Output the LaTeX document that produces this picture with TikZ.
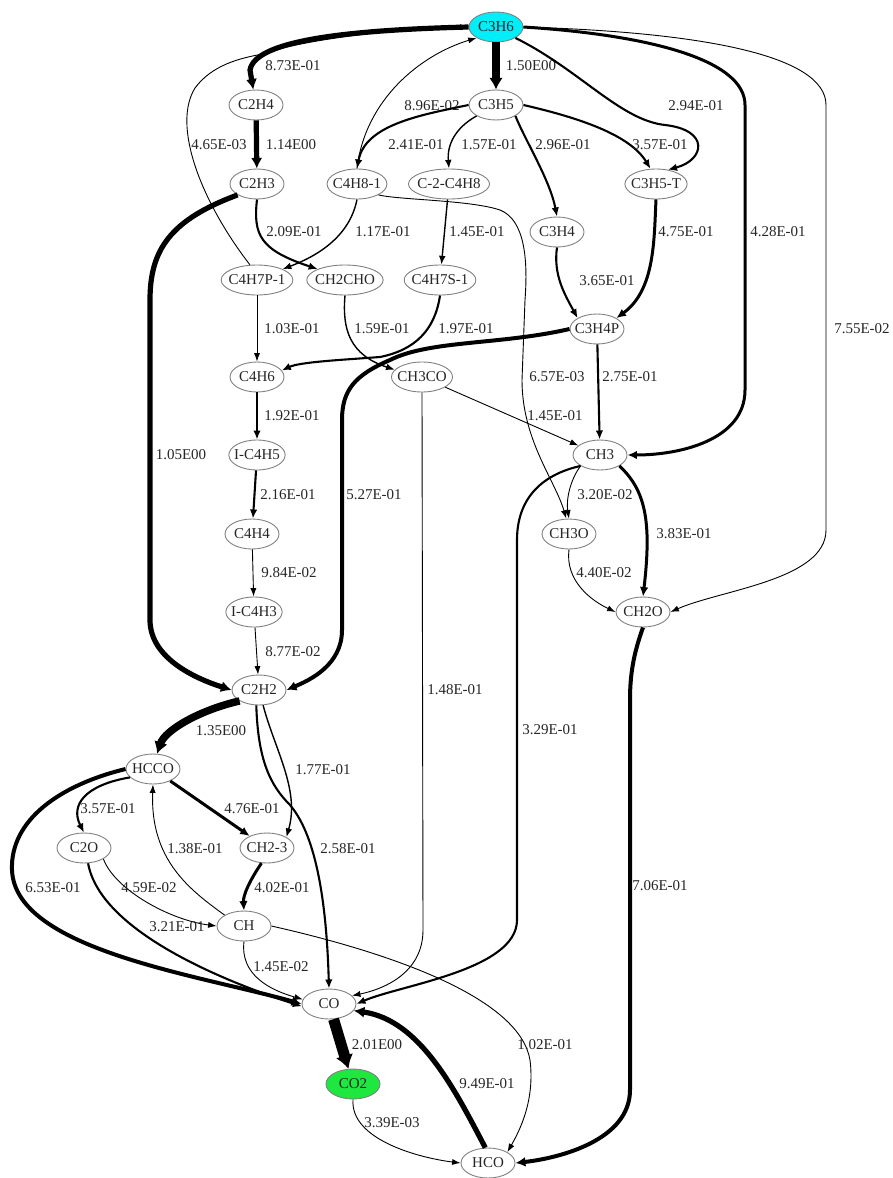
\documentclass[tikz,border=0pt]{standalone}
\usepackage{fontspec}
\setmainfont{Liberation Serif}
\usepackage{tikz}
\usetikzlibrary{arrows.meta,shapes.geometric}
\definecolor{startcyan}{RGB}{0,238,248}
\definecolor{endgreen}{RGB}{30,232,64}
\newcommand\rxnfont{\fontsize{15}{17}\selectfont}
\tikzset{
  >=latex, % default arrow head
  species/.style={ellipse,draw=black!50,line width=0.9,minimum width=54,minimum height=30,inner xsep=-3pt,inner ysep=0pt,font=\rxnfont,text=black!85},
  species start/.style={species,fill=startcyan},
  species end/.style={species,fill=endgreen},
  connect arrow/.style={-{Latex[length=8pt 0.5,width=5pt 1.2]},black},
  connect 1/.style={connect arrow,line width=0.9}, % widths grow with the flux
  connect 2/.style={connect arrow,line width=1.4},
  connect 3/.style={connect arrow,line width=2.1},
  connect 4/.style={connect arrow,line width=3},
  connect 5/.style={connect arrow,line width=4},
  connect 6/.style={connect arrow,line width=5.2},
  connect 7/.style={connect arrow,line width=7.5},
  connect 8/.style={connect arrow,line width=11},
  rate/.style={font=\rxnfont,text=black!85,inner sep=1pt}
}

\begin{document}
\begin{tikzpicture}[x=1pt,y=-1pt]
\useasboundingbox (0,0) rectangle (892,1178);

% The species
\node[species start] (c3h6) at (496,27) {C3H6};
\node[species] (c2h4) at (256,105) {C2H4};
\node[species] (c3h5) at (496,105) {C3H5};
\node[species] (c2h3) at (257,184) {C2H3};
\node[species] (c4h8) at (357,184) {C4H8-1};
\node[species] (cc4h8) at (449,184) {C-2-C4H8};
\node[species] (c3h5t) at (656,184) {C3H5-T};
\node[species] (c3h4) at (557,232) {C3H4};
\node[species] (c4h7p) at (257,280) {C4H7P-1};
\node[species] (ch2cho) at (345,280) {CH2CHO};
\node[species] (c4h7s) at (440,280) {C4H7S-1};
\node[species] (c3h4p) at (597,329) {C3H4P};
\node[species] (c4h6) at (257,377) {C4H6};
\node[species] (ch3co) at (422,377) {CH3CO};
\node[species] (ic4h5) at (257,455) {I-C4H5};
\node[species] (ch3) at (600,455) {CH3};
\node[species] (c4h4) at (252,534) {C4H4};
\node[species] (ch3o) at (569,534) {CH3O};
\node[species] (ic4h3) at (254,612) {I-C4H3};
\node[species] (ch2o) at (643,612) {CH2O};
\node[species] (c2h2) at (259,690) {C2H2};
\node[species] (hcco) at (153,769) {HCCO};
\node[species] (c2o) at (84,848) {C2O};
\node[species] (ch23) at (267,848) {CH2-3};
\node[species] (ch) at (244,926) {CH};
\node[species] (co) at (329,1004) {CO};
\node[species end] (co2) at (353,1084) {CO2};
\node[species] (hco) at (488,1163) {HCO};

% The connections
\draw[connect 6] (c3h6.west) .. controls (350,30) and (255,40) .. (250,70) -- (c2h4.100)
  node[rate] at (293,66) {8.73E-01};
\draw[connect 7] (c3h6) -- (c3h5) node[rate] at (531,66) {1.50E00};
\draw[connect 1] (c4h8.north) .. controls (365,100) and (420,55) .. (c3h6.south west)
  node[rate] at (432,106) {8.96E-02};
\draw[connect 6] (c2h4) -- (c2h3) node[rate] at (291,145) {1.14E00};
\draw[connect 1] (c4h7p.115) .. controls (200,200) and (172,125) .. (195,88)
  .. controls (212,65) and (240,58) .. (263,54) .. controls (300,40) and (400,28) .. (c3h6.west)
  node[rate] at (219,145) {4.65E-03};
\draw[connect 3] (c3h5.west) .. controls (420,115) and (365,125) .. (c4h8.north)
  node[rate] at (416,145) {2.41E-01};
\draw[connect 2] (c3h5.south west) .. controls (455,128) and (447,145) .. (cc4h8.north)
  node[rate] at (489,145) {1.57E-01};
\draw[connect 3] (c3h5.south east) .. controls (525,140) and (550,180) .. (c3h4.north)
  node[rate] at (563,145) {2.96E-01};
\draw[connect 3] (c3h5.east) .. controls (580,118) and (630,135) .. (c3h5t.110)
  node[rate] at (660,145) {3.57E-01};
\draw[connect 3] (c3h6.south east) .. controls (580,70) and (620,120) .. (665,125)
  .. controls (710,130) and (705,160) .. (c3h5t.50)
  node[rate] at (696,106) {2.94E-01};
\draw[connect 4] (c3h6.east) .. controls (650,35) and (745,60) .. (745,105) -- (745,390)
  .. controls (745,440) and (680,455) .. (ch3.east)
  node[rate] at (778,232) {4.28E-01};
\draw[connect 1] (c3h6.east) .. controls (700,32) and (826,55) .. (826,105) -- (826,530)
  .. controls (826,580) and (720,590) .. (ch2o.east)
  node[rate] at (862,329) {7.55E-02};
\draw[connect 6] (c2h3.south west) .. controls (170,220) and (150,250) .. (150,300) -- (150,620)
  .. controls (150,660) and (200,680) .. (c2h2.west)
  node[rate] at (181,455) {1.05E00};
\draw[connect 3] (c2h3.south) .. controls (253,235) and (260,250) .. (ch2cho.north west)
  node[rate] at (294,232) {2.09E-01};
\draw[connect 2] (c4h8.south) .. controls (350,235) and (320,255) .. (c4h7p.north east)
  node[rate] at (383,232) {1.17E-01};
\draw[connect 1] (c4h8.south east) .. controls (400,200) and (470,200) .. (500,210)
  .. controls (525,220) and (528,260) .. (525,300) -- (522,380)
  .. controls (522,440) and (555,480) .. (ch3o.100)
  node[rate] at (557,377) {6.57E-03};
\draw[connect 2] (cc4h8) -- (c4h7s) node[rate] at (477,232) {1.45E-01};
\draw[connect 3] (c3h4.south) .. controls (553,275) and (565,295) .. (c3h4p.north west)
  node[rate] at (607,281) {3.65E-01};
\draw[connect 4] (c3h5t.south) .. controls (654,240) and (655,290) .. (c3h4p.north east)
  node[rate] at (686,232) {4.75E-01};
\draw[connect 1] (c4h7p) -- (c4h6) node[rate] at (292,329) {1.03E-01};
\draw[connect 2] (ch2cho.south) .. controls (342,330) and (350,355) .. (ch3co.165)
  node[rate] at (382,329) {1.59E-01};
\draw[connect 3] (c4h7s.south) .. controls (435,330) and (415,350) .. (380,357)
  .. controls (340,360) and (300,362) .. (c4h6.15)
  node[rate] at (466,329) {1.97E-01};
\draw[connect 5] (c3h4p.west) .. controls (500,345) and (430,340) .. (390,360)
  .. controls (355,375) and (342,390) .. (342,420) -- (342,630)
  .. controls (342,665) and (310,680) .. (c2h2.east)
  node[rate] at (374,495) {5.27E-01};
\draw[connect 3] (c3h4p) -- (ch3) node[rate] at (630,377) {2.75E-01};
\draw[connect 3] (c4h6) -- (ic4h5) node[rate] at (292,416) {1.92E-01};
\draw[connect 1] (ch3co) -- (ch3) node[rate] at (555,416) {1.45E-01};
\draw[connect 1] (ch3co.south) -- (423,930) .. controls (423,975) and (380,990) .. (co.20)
  node[rate] at (455,690) {1.48E-01};
\draw[connect 3] (ic4h5) -- (c4h4) node[rate] at (288,495) {2.16E-01};
\draw[connect 1] (ch3.south west) .. controls (570,480) and (566,500) .. (ch3o.north)
  node[rate] at (605,495) {3.20E-02};
\draw[connect 4] (ch3.south east) .. controls (645,490) and (652,520) .. (ch2o.north)
  node[rate] at (684,534) {3.83E-01};
\draw[connect 3] (ch3.south west) .. controls (540,475) and (517,500) .. (517,540) -- (517,920)
  .. controls (517,970) and (400,985) .. (co.east)
  node[rate] at (550,730) {3.29E-01};
\draw[connect 1] (c4h4) -- (ic4h3) node[rate] at (289,573) {9.84E-02};
\draw[connect 1] (ch3o.south) .. controls (565,580) and (590,600) .. (ch2o.west)
  node[rate] at (604,573) {4.40E-02};
\draw[connect 5] (ch2o.south) .. controls (635,650) and (630,670) .. (630,700) -- (630,1090)
  .. controls (630,1140) and (560,1158) .. (hco.east)
  node[rate] at (660,886) {7.06E-01};
\draw[connect 1] (ic4h3) -- (c2h2) node[rate] at (293,652) {8.77E-02};
\draw[connect 7] (c2h2.south west) .. controls (200,710) and (165,730) .. (hcco.75)
  node[rate] at (221,731) {1.35E00};
\draw[connect 2] (c2h2.-75) .. controls (275,750) and (300,790) .. (ch23.north east)
  node[rate] at (323,770) {1.77E-01};
\draw[connect 3] (c2h2.-100) .. controls (258,760) and (270,785) .. (290,805)
  .. controls (320,840) and (327,920) .. (co.north)
  node[rate] at (348,849) {2.58E-01};
\draw[connect 3] (hcco.200) .. controls (85,785) and (70,805) .. (c2o.north)
  node[rate] at (108,809) {3.57E-01};
\draw[connect 4] (hcco) -- (ch23) node[rate] at (252,809) {4.76E-01};
\draw[connect 5] (hcco.west) .. controls (60,785) and (10,820) .. (12,870)
  .. controls (15,950) and (200,975) .. (co.west)
  node[rate] at (53,888) {6.53E-01};
\draw[connect 1] (ch.north west) .. controls (190,890) and (150,860) .. (hcco.south)
  node[rate] at (195,849) {1.38E-01};
\draw[connect 1] (c2o.south east) .. controls (115,890) and (170,920) .. (ch.west)
  node[rate] at (149,888) {4.59E-02};
\draw[connect 3] (c2o.-75) .. controls (100,930) and (220,980) .. (co.185)
  node[rate] at (177,927) {3.21E-01};
\draw[connect 4] (ch23.-110) .. controls (250,880) and (243,895) .. (ch.north)
  node[rate] at (282,888) {4.02E-01};
\draw[connect 1] (ch.south) .. controls (240,975) and (270,990) .. (co.170)
  node[rate] at (281,967) {1.45E-02};
\draw[connect 1] (ch.east) .. controls (400,955) and (520,1000) .. (530,1060)
  .. controls (535,1100) and (520,1130) .. (hco.north east)
  node[rate] at (545,1045) {1.02E-01};
\draw[connect 8] (co) -- (co2) node[rate] at (377,1045) {2.01E00};
\draw[connect 6] (hco.100) .. controls (455,1090) and (420,1020) .. (co.-15)
  node[rate] at (487,1084) {9.49E-01};
\draw[connect 1] (co2.south) .. controls (350,1140) and (420,1158) .. (hco.west)
  node[rate] at (392,1123) {3.39E-03};

\end{tikzpicture}
\end{document}
